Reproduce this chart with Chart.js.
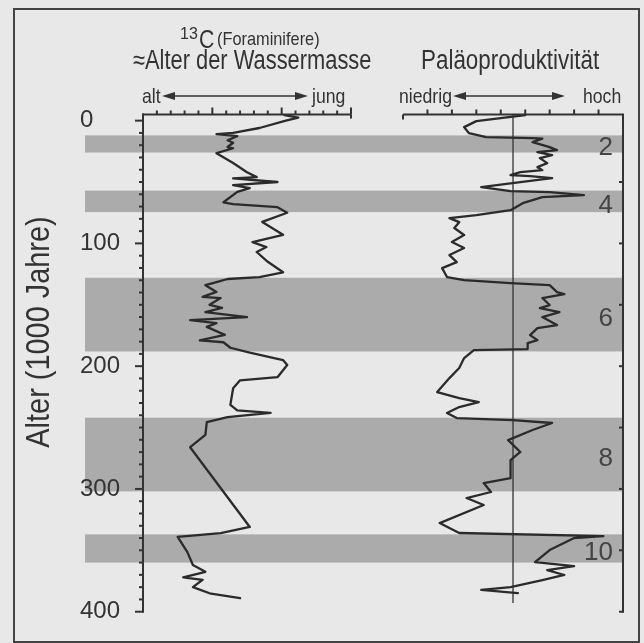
<!DOCTYPE html>
<html><head><meta charset="utf-8">
<script src="https://cdn.jsdelivr.net/npm/chart.js@4.4.1/dist/chart.umd.min.js"></script>
<style>
html,body{margin:0;padding:0;background:#e8e8e8;}
#wrap{position:relative;width:644px;height:643px;overflow:hidden;font-family:"Liberation Sans",Arial,sans-serif;color:#333;}
canvas{position:absolute;top:0;}
.t{position:absolute;white-space:nowrap;line-height:1;transform-origin:0 0;}
#frame{position:absolute;left:13px;top:8px;width:623px;height:631px;border:2px solid #444;}
svg{position:absolute;left:0;top:0;}
</style></head><body>
<div id="wrap">
<div id="frame"></div>
<canvas id="c1" width="380" height="643" style="left:0;width:380px;height:643px"></canvas>
<canvas id="c2" width="264" height="643" style="left:380px;width:264px;height:643px"></canvas>
<div class="t" style="left:180px;top:26px;font-size:16px">13</div>
<div class="t" style="left:199px;top:27px;font-size:25px;transform:scaleX(0.85)">C</div>
<div class="t" style="left:217px;top:29px;font-size:19px;transform:scaleX(0.86)">(Foraminifere)</div>
<div class="t" style="left:133px;top:47px;font-size:27px;transform:scaleX(0.81)">≈Alter der Wassermasse</div>
<div class="t" style="left:421px;top:47px;font-size:27px;transform:scaleX(0.83)">Paläoproduktivität</div>
<div class="t" style="left:142px;top:85px;font-size:21px;transform:scaleX(0.84)">alt</div>
<div class="t" style="left:312px;top:85px;font-size:21px;transform:scaleX(0.84)">jung</div>
<div class="t" style="left:399px;top:85px;font-size:21px;transform:scaleX(0.84)">niedrig</div>
<div class="t" style="left:583px;top:85px;font-size:21px;transform:scaleX(0.84)">hoch</div>
<div class="t" style="left:37px;top:332px;font-size:34px;transform-origin:50% 50%;transform:translate(-50%,-50%) rotate(-90deg) scaleX(0.85)">Alter (1000 Jahre)</div>
<svg width="644" height="643">
 <g stroke="#333" stroke-width="1.6" fill="#333">
  <line x1="170" y1="96" x2="300" y2="96"/>
  <polygon points="162,96 175,92 175,100" stroke="none"/>
  <polygon points="308,96 295,92 295,100" stroke="none"/>
  <line x1="461" y1="96" x2="557" y2="96"/>
  <polygon points="453,96 466,92 466,100" stroke="none"/>
  <polygon points="565,96 552,92 552,100" stroke="none"/>
 </g>
</svg>
</div>
<script>
// ---- data ----
const ageTicks = [0, 100, 200, 300, 400];
const stageLabels = ['2', '4', '6', '8', '10'];
const stageStart = [12, 57, 128, 242, 337];
const stageEnd = [26, 74.5, 188, 302, 360];

const c13Age = [-4.5, -2.5, 0, 6, 10, 11, 12.6, 16, 18, 21.5, 22.5, 26.5, 34.5, 42, 46, 47, 50, 52.5, 55, 58, 66.5, 68, 70.5, 75, 82.5, 93, 99, 103, 107, 115, 123.5, 127.5, 129, 131.5, 134, 139.5, 143.5, 144.5, 150, 152.5, 156, 160, 162.5, 165, 168, 174.5, 179, 180.5, 185, 189, 195, 199, 209, 211.5, 218, 231.5, 236, 238, 241.5, 245.5, 256, 266, 331, 336, 339, 351.5, 362, 367.5, 372, 374, 380, 385, 389];
const c13Value = [10.2, 11.2, 10.3, 8.4, 6.5, 5.3, 6.8, 6.1, 6.5, 6.1, 6.5, 5.3, 6.5, 7.5, 8.2, 6.5, 9.7, 6.5, 7.7, 6.8, 5.8, 6.5, 9.7, 10.4, 8.6, 10.1, 7.9, 8.9, 8.2, 9.0, 10.1, 8.4, 6.1, 5.3, 4.5, 5.3, 4.3, 5.6, 4.8, 5.7, 4.5, 7.5, 3.4, 5.3, 4.6, 5.9, 4.1, 5.8, 6.3, 7.7, 10.1, 10.4, 9.7, 7.0, 6.5, 6.3, 6.8, 9.2, 6.1, 4.6, 4.5, 3.4, 7.7, 5.6, 2.5, 3.2, 3.6, 4.5, 2.9, 4.3, 3.6, 4.8, 7.0];

const prodAge = [-4.5, 0.4, 5.3, 10.2, 13.4, 14.3, 14.6, 17.5, 21.6, 24, 25.7, 28.1, 30.5, 34.6, 37.9, 40.3, 41.9, 44.4, 45.2, 46.8, 50.1, 54.2, 57.4, 58.2, 60.7, 62.3, 64.7, 67.2, 72.9, 77, 79.4, 82.7, 87.5, 93.2, 98.9, 103.8, 109.5, 115.2, 120.1, 127.4, 129.9, 132.3, 134, 139.7, 141.3, 144.5, 150.2, 152.7, 155.9, 160, 166.5, 169, 174.7, 178.8, 181.2, 186.1, 186.9, 193.4, 201.5, 209.7, 221.1, 226, 229.2, 233.3, 238.2, 242.3, 243.9, 246.3, 252, 260.2, 269.9, 276.5, 291.2, 295.2, 302.5, 307.4, 313.1, 327.8, 335.9, 338.4, 340, 349.8, 359.6, 362.8, 366.1, 370.1, 374.2, 379.9, 382.3, 384.8];
const prodValue = [5.0, 3.0, 2.5, 2.7, 3.4, 5.3, 5.7, 5.3, 6.0, 6.3, 5.5, 6.1, 5.6, 5.9, 5.5, 5.7, 4.8, 4.4, 5.2, 6.1, 4.8, 3.2, 4.4, 6.0, 7.4, 5.7, 5.3, 4.9, 4.4, 3.0, 1.9, 2.3, 2.1, 2.5, 2.0, 2.5, 1.9, 2.2, 1.6, 1.8, 2.5, 4.4, 6.0, 6.3, 6.6, 5.7, 6.0, 5.6, 6.4, 5.7, 6.3, 5.5, 5.2, 5.5, 5.1, 5.1, 2.9, 2.5, 2.3, 1.9, 1.4, 2.3, 3.1, 2.3, 1.8, 2.2, 4.5, 6.1, 5.3, 4.3, 4.8, 4.4, 4.4, 3.3, 3.6, 2.6, 3.3, 1.5, 2.3, 8.2, 7.0, 6.0, 5.4, 7.0, 5.9, 6.6, 5.7, 4.4, 3.2, 4.7];

const leftMax = 15, rightMax = 9, rightMid = 4.5;

const FONT = '"Liberation Sans",Arial,sans-serif';
const INK = '#333';
const BAND = '#ababab';
const AGE_MIN = -5, AGE_MAX = 400;

function seg(ctx, x1, y1, x2, y2) { ctx.beginPath(); ctx.moveTo(x1, y1); ctx.lineTo(x2, y2); ctx.stroke(); }

const bandsPlugin = {
  id: 'bands',
  beforeDraw(chart, args, opts) {
    const { ctx } = chart; const y = chart.scales.y;
    const left = opts.left(chart), right = opts.right(chart);
    ctx.save(); ctx.fillStyle = BAND;
    stageStart.forEach((s, i) => {
      const y0 = y.getPixelForValue(s), y1 = y.getPixelForValue(stageEnd[i]);
      ctx.fillRect(left, y0, right - left, y1 - y0);
    });
    ctx.restore();
  }
};

const leftAxes = {
  id: 'leftAxes',
  afterDatasetsDraw(chart) {
    const { ctx, chartArea: a } = chart; const x = chart.scales.x, y = chart.scales.y;
    ctx.save(); ctx.strokeStyle = INK; ctx.lineWidth = 2; ctx.lineCap = 'butt';
    seg(ctx, a.left - 1, a.top, a.right, a.top);
    for (let u = 1; u <= leftMax; u++) {
      const px = x.getPixelForValue(u);
      seg(ctx, px, a.top, px, a.top - (u % 5 === 0 ? 7 : 4));
    }
    const pxe = x.getPixelForValue(leftMax); seg(ctx, pxe, a.top, pxe, a.top + 4);
    const yb = y.getPixelForValue(AGE_MAX);
    seg(ctx, a.left, a.top - 1, a.left, yb + 1);
    for (let v = 0; v <= AGE_MAX; v += 10) {
      const py = y.getPixelForValue(v);
      seg(ctx, a.left - (v % 100 === 0 ? 8 : 4), py, a.left, py);
    }
    ctx.restore();
  }
};

const rightAxes = {
  id: 'rightAxes',
  beforeDatasetsDraw(chart) {
    const { ctx, chartArea: a } = chart; const x = chart.scales.x, y = chart.scales.y;
    ctx.save(); ctx.strokeStyle = INK; ctx.lineWidth = 1.3;
    const pm = x.getPixelForValue(rightMid);
    seg(ctx, pm, a.top, pm, y.getPixelForValue(393));
    ctx.fillStyle = '#444'; ctx.font = '26px ' + FONT; ctx.textAlign = 'right'; ctx.textBaseline = 'middle';
    stageLabels.forEach((l, i) => {
      const py = (y.getPixelForValue(stageStart[i]) + y.getPixelForValue(stageEnd[i])) / 2 + 4;
      ctx.fillText(l, x.getPixelForValue(rightMax) - 10, py);
    });
    ctx.restore();
  },
  afterDatasetsDraw(chart) {
    const { ctx, chartArea: a } = chart; const x = chart.scales.x, y = chart.scales.y;
    ctx.save(); ctx.strokeStyle = INK; ctx.lineWidth = 2;
    const x0 = x.getPixelForValue(0), x9 = x.getPixelForValue(rightMax);
    seg(ctx, x0, a.top, x9 + 1, a.top);
    seg(ctx, x0, a.top, x0, a.top + 5);
    for (let u = 1; u < rightMax; u++) {
      const px = x.getPixelForValue(u);
      seg(ctx, px, a.top, px, a.top - 5);
    }
    const yb = y.getPixelForValue(AGE_MAX);
    seg(ctx, x9, a.top, x9, yb + 1);
    for (let v = 50; v <= AGE_MAX; v += 50) {
      const py = y.getPixelForValue(v);
      seg(ctx, x9 - 4, py, x9, py);
    }
    ctx.restore();
  }
};

function lineData(ages, vals) { return ages.map((a, i) => ({ x: vals[i], y: a })); }

const common = {
  responsive: false, animation: false, events: [],
  elements: { point: { radius: 0 }, line: { tension: 0, borderWidth: 2.3, borderColor: '#2b2b2b', borderJoinStyle: 'round', borderCapStyle: 'round' } }
};

new Chart(document.getElementById('c1'), {
  type: 'scatter',
  data: { datasets: [{ data: lineData(c13Age, c13Value), showLine: true, borderColor: '#2b2b2b', borderWidth: 2.3, pointRadius: 0 }] },
  options: Object.assign({}, common, {
    layout: { padding: { left: 80, right: 29, top: 114.5, bottom: 31.3 } },
    plugins: { legend: { display: false }, tooltip: { enabled: false },
      bands: { left: () => 85, right: (c) => c.width } },
    scales: {
      x: { type: 'linear', min: 0, max: leftMax, display: false },
      y: { type: 'linear', reverse: true, min: AGE_MIN, max: AGE_MAX, position: 'left',
        afterBuildTicks: s => { s.ticks = ageTicks.map(v => ({ value: v })); },
        afterFit: s => { s.width = 63; },
        grid: { display: false, drawTicks: false }, border: { display: false },
        ticks: { crossAlign: 'far', padding: 0, autoSkip: false, color: INK, font: { family: FONT, size: 24 } } }
    }
  }),
  plugins: [bandsPlugin, leftAxes]
});

new Chart(document.getElementById('c2'), {
  type: 'scatter',
  data: { datasets: [{ data: lineData(prodAge, prodValue), showLine: true, borderColor: '#2b2b2b', borderWidth: 2.3, pointRadius: 0 }] },
  options: Object.assign({}, common, {
    layout: { padding: { left: 23, right: 21, top: 114.5, bottom: 31.3 } },
    plugins: { legend: { display: false }, tooltip: { enabled: false },
      bands: { left: () => 0, right: (c) => c.chartArea.right } },
    scales: {
      x: { type: 'linear', min: 0, max: rightMax, display: false },
      y: { type: 'linear', reverse: true, min: AGE_MIN, max: AGE_MAX, display: false }
    }
  }),
  plugins: [bandsPlugin, rightAxes]
});
</script>
</body></html>
